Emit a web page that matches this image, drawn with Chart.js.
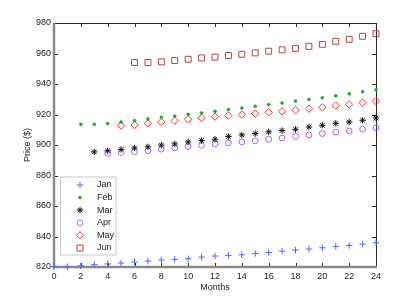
<!DOCTYPE html>
<html><head><meta charset="utf-8">
<script src="https://cdn.jsdelivr.net/npm/chart.js@4/dist/chart.umd.min.js"></script>
<style>html,body{margin:0;padding:0;background:#fff}#wrap{width:415px;height:302px;position:relative}</style>
</head><body><div id="wrap"><canvas id="c"></canvas></div>
<script>
const months = [0,1,2,3,4,5,6,7,8,9,10,11,12,13,14,15,16,17,18,19,20,21,22,23,24];
const xTicks = [0,2,4,6,8,10,12,14,16,18,20,22,24];
const yTicks = [820,840,860,880,900,920,940,960,980];
const seriesNames = ['Jan','Feb','Mar','Apr','May','Jun'];
const jan = [820.3,820.1,820.8,821.5,822.0,822.6,823.3,823.9,824.6,825.0,825.4,826.5,827.2,827.6,828.0,828.9,829.5,830.4,831.1,831.8,832.6,833.5,834.1,835.0,835.9];
const feb = [null,null,913.6,913.6,914.1,915.1,916.0,917.1,918.2,919.0,920.1,921.0,922.1,923.2,924.2,925.4,926.5,927.5,928.8,929.9,931.0,932.3,933.6,934.9,936.3];
const mar = [null,null,null,895.5,896.2,897.1,898.1,898.8,899.9,900.7,902.0,902.9,903.8,905.6,906.6,907.5,908.6,909.5,910.3,911.8,912.9,914.2,915.1,916.2,917.7];
const apr = [null,null,null,null,894.5,895.1,895.5,896.2,897.3,898.1,899.0,899.7,900.7,901.4,902.0,902.7,903.8,904.6,905.6,906.6,907.5,908.4,909.2,910.3,911.2];
const may = [null,null,null,null,null,912.7,913.1,914.1,915.1,916.0,916.9,917.7,918.6,919.3,919.9,920.6,921.4,922.1,922.9,923.8,924.7,925.8,926.6,927.8,928.8];
const jun = [null,null,null,null,null,null,954.1,954.1,954.5,955.4,956.2,957.1,957.6,958.7,959.5,960.4,961.5,962.4,963.4,964.7,966.0,968.0,969.3,971.3,973.0];

const FONT = '"Liberation Sans", Arial, Helvetica, sans-serif';
const styles = [
  {pointStyle:'cross', radius:3.2, color:'#4d66ff', fill:'rgba(0,0,0,0)', bw:1},
  {pointStyle:'circle', radius:1.5, color:'#1fa81f', fill:'#1fa81f', bw:0.5},
  {pointStyle:'star', radius:3.2, color:'#111111', fill:'rgba(0,0,0,0)', bw:1},
  {pointStyle:'circle', radius:2.9, color:'#b05cff', fill:'rgba(0,0,0,0)', bw:1},
  {pointStyle:'rectRot', radius:3.7, color:'#ff3333', fill:'rgba(0,0,0,0)', bw:1},
  {pointStyle:'rect', radius:4.2, color:'#b3473c', fill:'rgba(0,0,0,0)', bw:1}
];
const allSeries = [jan,feb,mar,apr,may,jun];

const datasets = allSeries.map((vals,i)=>({
  label: seriesNames[i],
  data: months.map((m,k)=>({x:m,y:vals[k]})).filter(p=>p.y!==null),
  showLine:false,
  pointStyle: styles[i].pointStyle,
  pointRadius: styles[i].radius,
  pointBorderColor: styles[i].color,
  pointBackgroundColor: styles[i].fill,
  pointBorderWidth: styles[i].bw,
  clip:false
}));

function seg(ctx,x1,y1,x2,y2){ctx.beginPath();ctx.moveTo(x1,y1);ctx.lineTo(x2,y2);ctx.stroke();}

const framePlugin = {
  id:'frame',
  beforeDatasetsDraw(chart){
    const {ctx, chartArea:a, scales:{x,y}} = chart;
    ctx.save();
    ctx.strokeStyle = '#262626'; ctx.lineWidth = 1;
    seg(ctx, a.left, a.top+0.5, a.right+0.5, a.top+0.5);
    seg(ctx, a.right+0.5, a.top, a.right+0.5, a.bottom);
    const tl = 4;
    x.ticks.forEach(t=>{
      const px = Math.round(x.getPixelForValue(t.value))+0.5;
      seg(ctx, px, a.bottom, px, a.bottom-tl);
      seg(ctx, px, a.top, px, a.top+tl);
    });
    y.ticks.forEach(t=>{
      const py = Math.round(y.getPixelForValue(t.value))+0.5;
      seg(ctx, a.left, py, a.left+tl, py);
      seg(ctx, a.right, py, a.right-tl, py);
    });
    ctx.strokeStyle = '#8a8a8a'; ctx.lineWidth = 2.5;
    seg(ctx, a.left, a.top, a.left, a.bottom+1.2);
    seg(ctx, a.left-1.2, a.bottom, a.right+1, a.bottom);
    ctx.restore();
  }
};

function drawMarker(ctx, st, px, py){
  ctx.save();
  ctx.strokeStyle = st.color; ctx.fillStyle = st.fill; ctx.lineWidth = st.bw;
  if (Chart.helpers && Chart.helpers.drawPoint) {
    Chart.helpers.drawPoint(ctx, {pointStyle:st.pointStyle, radius:st.radius, rotation:0, borderWidth:st.bw}, px, py);
  }
  ctx.restore();
}

const legendPlugin = {
  id:'boxLegend',
  afterDatasetsDraw(chart){
    const {ctx, chartArea:a} = chart;
    const bx = a.left+6.5, by = a.top+154, bw = 55.5, bh = 78;
    ctx.save();
    ctx.fillStyle = '#ffffff'; ctx.fillRect(bx, by, bw, bh);
    ctx.strokeStyle = '#c8c8c8'; ctx.lineWidth = 1; ctx.strokeRect(bx, by, bw, bh);
    ctx.font = '9px ' + FONT; ctx.fillStyle = '#222222';
    ctx.textBaseline = 'middle'; ctx.textAlign = 'left';
    chart.data.datasets.forEach((ds,i)=>{
      const ey = by + 8 + i*12.6;
      drawMarker(ctx, styles[i], bx+19.5, ey);
      ctx.fillStyle = '#222222';
      ctx.fillText(ds.label, bx+36.5, ey);
    });
    ctx.restore();
  }
};

new Chart(document.getElementById('c'), {
  type:'scatter',
  data:{datasets},
  options:{
    responsive:true, maintainAspectRatio:false, animation:false, events:[],
    layout:{padding:{left:0, top:23, right:39, bottom:0}},
    plugins:{legend:{display:false}, tooltip:{enabled:false}},
    scales:{
      x:{type:'linear', min:0, max:24,
        grid:{display:false, drawTicks:false, tickLength:0}, border:{display:false},
        afterBuildTicks(s){ s.ticks = xTicks.map(v=>({value:v})); },
        afterFit(s){ s.height = 35; },
        ticks:{padding:4, color:'#222', font:{family:FONT, size:9}, maxRotation:0, autoSkip:false},
        title:{display:true, text:'Months', color:'#222', font:{family:FONT, size:9}, padding:{top:0, bottom:9.3}}
      },
      y:{type:'linear', min:820, max:980,
        grid:{display:false, drawTicks:false, tickLength:0}, border:{display:false},
        afterBuildTicks(s){ s.ticks = yTicks.map(v=>({value:v})); },
        afterFit(s){ s.width = 54; },
        ticks:{padding:3, color:'#222', font:{family:FONT, size:9}, autoSkip:false},
        title:{display:true, text:'Price ($)', color:'#222', font:{family:FONT, size:9}, padding:{top:22, bottom:0}}
      }
    }
  },
  plugins:[framePlugin, legendPlugin]
});
</script></body></html>
